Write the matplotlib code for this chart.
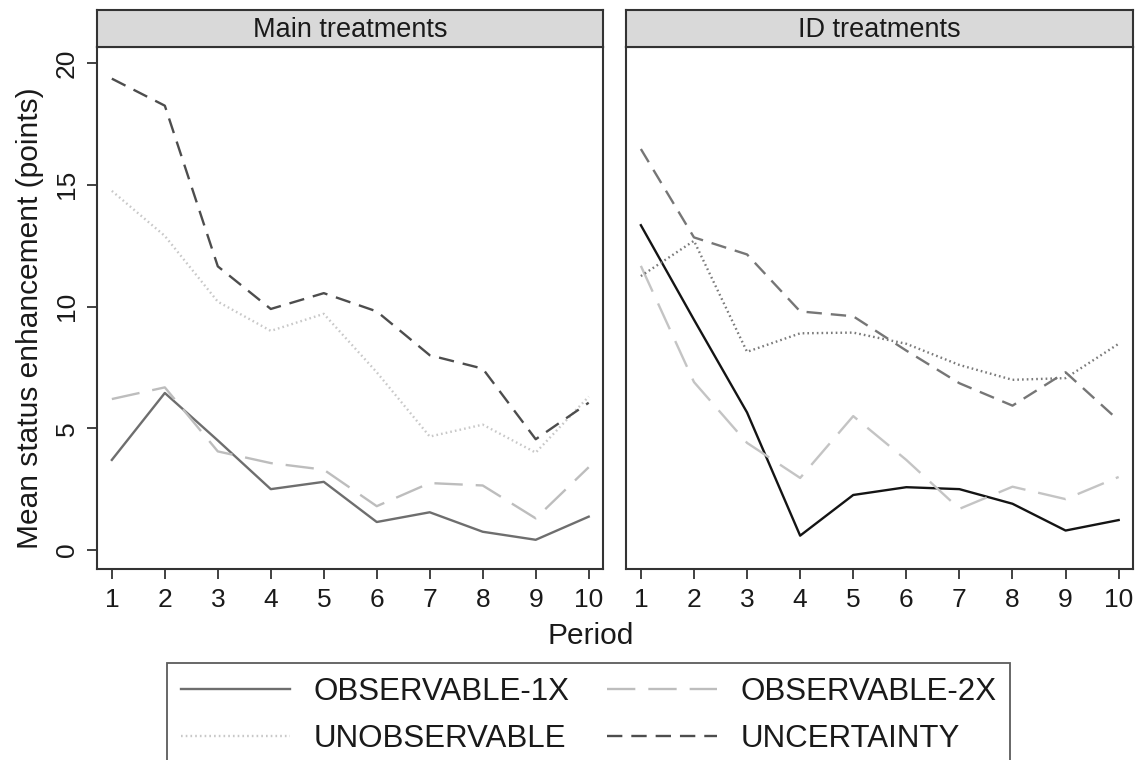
import numpy as np
import matplotlib
matplotlib.use("Agg")
import matplotlib.pyplot as plt
from matplotlib.lines import Line2D

plt.rcParams['font.family'] = ['Liberation Sans', 'DejaVu Sans']

periods = list(range(1, 11))
series_names = ["OBSERVABLE-1X", "OBSERVABLE-2X", "UNOBSERVABLE", "UNCERTAINTY"]
panel_titles = ["Main treatments", "ID treatments"]

# main treatments
main_obs1x = [3.7, 6.45, 4.5, 2.5, 2.8, 1.15, 1.55, 0.75, 0.42, 1.37]
main_obs2x = [6.2, 6.68, 4.05, 3.57, 3.3, 1.8, 2.75, 2.65, 1.3, 3.4]
main_unobs = [14.75, 12.9, 10.2, 9.0, 9.7, 7.3, 4.66, 5.15, 4.0, 6.3]
main_uncert = [19.36, 18.25, 11.65, 9.9, 10.55, 9.8, 8.0, 7.45, 4.55, 6.05]

# ID treatments
id_obs1x = [13.34, 9.46, 5.65, 0.59, 2.26, 2.58, 2.5, 1.9, 0.8, 1.23]
id_obs2x = [11.67, 6.9, 4.4, 2.96, 5.5, 3.7, 1.69, 2.6, 2.09, 3.0]
id_unobs = [11.25, 12.7, 8.14, 8.9, 8.93, 8.47, 7.6, 6.99, 7.06, 8.47]
id_uncert = [16.47, 12.84, 12.14, 9.8, 9.6, 8.19, 6.85, 5.93, 7.3, 5.32]

yticks = [0, 5, 10, 15, 20]

W, H = 1138, 760
fig = plt.figure(figsize=(W / 100, H / 100), dpi=100)

styles = {
    "OBSERVABLE-1X": dict(ls="-"),
    "OBSERVABLE-2X": dict(ls=(0, (12, 5.5))),
    "UNOBSERVABLE": dict(ls=(0, (0.7, 1.3))),
    "UNCERTAINTY": dict(ls=(0, (6.5, 3.8))),
}
main_colors = {"OBSERVABLE-1X": "#6e6e6e", "OBSERVABLE-2X": "#bdbdbd",
               "UNOBSERVABLE": "#c8c8c8", "UNCERTAINTY": "#4d4d4d"}
id_colors = {"OBSERVABLE-1X": "#141414", "OBSERVABLE-2X": "#c4c4c4",
             "UNOBSERVABLE": "#7a7a7a", "UNCERTAINTY": "#767676"}

panels = [
    (97, 603, panel_titles[0], [main_obs1x, main_obs2x, main_unobs, main_uncert], main_colors),
    (626, 1133, panel_titles[1], [id_obs1x, id_obs2x, id_unobs, id_uncert], id_colors),
]
top, bottom, strip_top = 47, 569, 10
spine_col = "#333333"
txt_col = "#1a1a1a"
LW = 1.7

for i, (x0, x1, title, data, cols) in enumerate(panels):
    ax = fig.add_axes([x0 / W, 1 - bottom / H, (x1 - x0) / W, (bottom - top) / H])
    for name, vals in zip(series_names, data):
        ax.plot(periods, vals, color=cols[name], lw=LW, **styles[name])
    ax.set_xlim(0.72, 10.27)
    ax.set_ylim(-0.78, 20.66)
    ax.set_xticks(periods)
    ax.tick_params(axis='x', direction='out', length=7, width=1.3, color=spine_col,
                   labelsize=19, labelcolor=txt_col, pad=7)
    if i == 0:
        ax.set_yticks(yticks)
        ax.set_yticklabels([str(v) for v in yticks], rotation=90, va='center')
        ax.tick_params(axis='y', direction='out', length=7, width=1.3, color=spine_col,
                       labelsize=19, labelcolor=txt_col, pad=6)
    else:
        ax.set_yticks([])
    for sp in ax.spines.values():
        sp.set_color(spine_col)
        sp.set_linewidth(1.5)

    sax = fig.add_axes([x0 / W, 1 - top / H, (x1 - x0) / W, (top - strip_top) / H])
    sax.set_facecolor("#d9d9d9")
    sax.set_xticks([])
    sax.set_yticks([])
    for sp in sax.spines.values():
        sp.set_color(spine_col)
        sp.set_linewidth(1.5)
    sax.text(0.5, 0.45, title, ha='center', va='center', fontsize=19.5,
             color=txt_col, transform=sax.transAxes)

fig.text(30 / W, 1 - 318 / H, "Mean status enhancement (points)", rotation=90,
         ha='center', va='center', fontsize=21.5, color=txt_col)
fig.text(591 / W, 1 - 636 / H, "Period", ha='center', va='center',
         fontsize=21.5, color=txt_col)

handles = [Line2D([], [], color=main_colors[n], lw=LW, **styles[n]) for n in series_names]
order = [0, 2, 1, 3]  # legend fills column-wise
leg = fig.legend([handles[k] for k in order], [series_names[k] for k in order],
                 loc='upper left', bbox_to_anchor=(167 / W, 1 - 663 / H),
                 ncol=2, fontsize=22.5, frameon=True, fancybox=False,
                 handlelength=3.5, handletextpad=0.75, columnspacing=1.2,
                 labelspacing=0.55, borderpad=0.45, borderaxespad=0)
leg.get_frame().set_edgecolor(spine_col)
leg.get_frame().set_linewidth(1.3)
for t in leg.get_texts():
    t.set_color(txt_col)

fig.savefig("out.png", dpi=100)
